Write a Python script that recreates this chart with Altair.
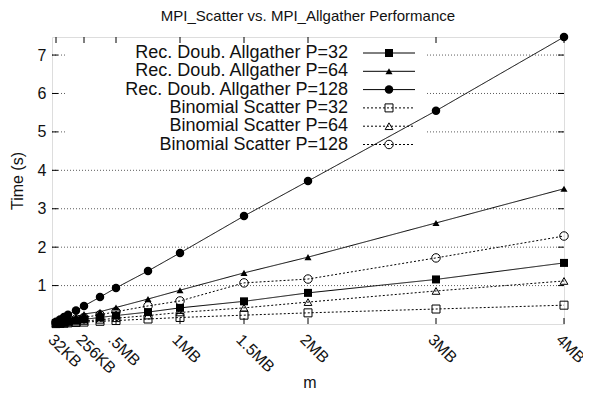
import altair as alt
import pandas as pd

# ---- data ----
sizes_kb = [32, 64, 96, 128, 192, 256, 384, 512, 768, 1024, 1536, 2048, 3072, 4096]
ag_p32 = [0.02, 0.03, 0.05, 0.06, 0.09, 0.12, 0.17, 0.22, 0.31, 0.42, 0.59, 0.81, 1.16, 1.59]
ag_p64 = [0.04, 0.07, 0.10, 0.13, 0.19, 0.26, 0.32, 0.43, 0.65, 0.88, 1.33, 1.74, 2.63, 3.52]
ag_p128 = [0.06, 0.12, 0.18, 0.24, 0.35, 0.47, 0.70, 0.94, 1.38, 1.85, 2.81, 3.72, 5.55, 7.47]
sc_p32 = [0.01, 0.015, 0.02, 0.03, 0.04, 0.05, 0.07, 0.09, 0.13, 0.17, 0.23, 0.29, 0.39, 0.49]
sc_p64 = [0.01, 0.02, 0.03, 0.04, 0.06, 0.08, 0.11, 0.15, 0.22, 0.30, 0.42, 0.57, 0.86, 1.12]
sc_p128 = [0.03, 0.05, 0.07, 0.09, 0.13, 0.17, 0.24, 0.32, 0.47, 0.60, 1.07, 1.17, 1.72, 2.29]

series_names = [
    "Rec. Doub. Allgather P=32",
    "Rec. Doub. Allgather P=64",
    "Rec. Doub. Allgather P=128",
    "Binomial Scatter P=32",
    "Binomial Scatter P=64",
    "Binomial Scatter P=128",
]
series_values = [ag_p32, ag_p64, ag_p128, sc_p32, sc_p64, sc_p128]

x_tick_kb = [32, 256, 512, 1024, 1536, 2048, 3072, 4096]
x_tick_labels = ["32KB", "256KB", ".5MB", "1MB", "1.5MB", "2MB", "3MB", "4MB"]
y_ticks = [1, 2, 3, 4, 5, 6, 7]

title_text = "MPI_Scatter vs. MPI_Allgather Performance"
x_title = "m"
y_title = "Time (s)"

# ---- styling ----
FONT = "Liberation Sans"
W, H = 512, 287
styles = [
    dict(shape="square", filled=True, size=64, dash=[1, 0]),
    dict(shape="triangle-up", filled=True, size=50, dash=[1, 0]),
    dict(shape="circle", filled=True, size=72, dash=[1, 0]),
    dict(shape="square", filled=False, size=64, dash=[2, 2]),
    dict(shape="triangle-up", filled=False, size=60, dash=[2, 2]),
    dict(shape="circle", filled=False, size=72, dash=[2, 2]),
]

x_ticks_mb = [k / 1024 for k in x_tick_kb]
label_expr = "''"
for v, lab in reversed(list(zip(x_ticks_mb, x_tick_labels))):
    label_expr = f"abs(datum.value - {v}) < 0.001 ? '{lab}' : ({label_expr})"

xscale = alt.Scale(domain=[0, 4], nice=False, zero=False)
yscale = alt.Scale(domain=[0, 7.47], nice=False, zero=False)
xaxis = alt.Axis(values=x_ticks_mb, labelExpr=label_expr, labelAngle=45, labelAlign="left",
                 labelBaseline="top", labelPadding=7, title=None, grid=False, ticks=False,
                 domain=False, labelFont=FONT, labelFontSize=16, labelColor="#111", tickSize=0,
                 labelOverlap=False, labelBound=False, labelFlush=False)
yaxis = alt.Axis(values=y_ticks, title=None, grid=False, ticks=False, domain=False,
                 labelFont=FONT, labelFontSize=16, labelColor="#111", labelPadding=6, tickSize=0)


def X(field="mb"):
    return alt.X(f"{field}:Q", scale=xscale, axis=xaxis)


def Y(field="time"):
    return alt.Y(f"{field}:Q", scale=yscale, axis=yaxis)


layers = []

# horizontal dotted grid
grid_df = pd.DataFrame({"time": y_ticks})
layers.append(alt.Chart(grid_df).mark_rule(color="#333", strokeWidth=0.8, strokeDash=[1, 2]).encode(
    y=Y(), x=alt.value(0), x2=alt.value(W)))

# legend background (covers grid)
dummy = pd.DataFrame({"a": [0]})
layers.append(alt.Chart(dummy).mark_rect(color="white").encode(
    x=alt.value(15), x2=alt.value(373), y=alt.value(1), y2=alt.value(113)))

# inward ticks (bottom, top, left, right)
xt_df = pd.DataFrame({"mb": x_ticks_mb})
yt_df = pd.DataFrame({"time": y_ticks})
TL = 6
layers.append(alt.Chart(xt_df).mark_rule(color="black", strokeWidth=1).encode(
    x=X(), y=alt.value(H), y2=alt.value(H - TL)))
layers.append(alt.Chart(xt_df).mark_rule(color="black", strokeWidth=1).encode(
    x=X(), y=alt.value(0), y2=alt.value(TL)))
layers.append(alt.Chart(yt_df).mark_rule(color="black", strokeWidth=1).encode(
    y=Y(), x=alt.value(0), x2=alt.value(TL)))
layers.append(alt.Chart(yt_df).mark_rule(color="black", strokeWidth=1).encode(
    y=Y(), x=alt.value(W), x2=alt.value(W - TL)))

# series
for name, vals, st in zip(series_names, series_values, styles):
    df = pd.DataFrame({"mb": [k / 1024 for k in sizes_kb], "time": vals})
    layers.append(alt.Chart(df).mark_line(color="black", strokeWidth=1, strokeDash=st["dash"]).encode(
        x=X(), y=Y()))
    layers.append(alt.Chart(df).mark_point(
        shape=st["shape"], filled=st["filled"], size=st["size"], color="black",
        strokeWidth=1, opacity=1).encode(x=X(), y=Y()))

# legend
for i, (name, st) in enumerate(zip(series_names, styles)):
    yy = 16 + 18.3 * i
    layers.append(alt.Chart(dummy).mark_text(align="right", baseline="middle", font=FONT,
                                             fontSize=18, color="#111").encode(
        x=alt.value(296), y=alt.value(yy), text=alt.value(name)))
    layers.append(alt.Chart(dummy).mark_rule(color="black", strokeWidth=1, strokeDash=st["dash"]).encode(
        x=alt.value(311), x2=alt.value(363), y=alt.value(yy)))
    layers.append(alt.Chart(dummy).mark_point(shape=st["shape"], filled=st["filled"], size=st["size"],
                                              color="black", strokeWidth=1, opacity=1).encode(
        x=alt.value(337), y=alt.value(yy)))

# titles
layers.append(alt.Chart(dummy).mark_text(align="center", baseline="middle", font=FONT, fontSize=15,
                                         color="#111").encode(
    x=alt.value(W / 2), y=alt.value(-21), text=alt.value(title_text)))
layers.append(alt.Chart(dummy).mark_text(align="center", baseline="middle", font=FONT, fontSize=16,
                                         color="#111").encode(
    x=alt.value(258), y=alt.value(346), text=alt.value(x_title)))
layers.append(alt.Chart(dummy).mark_text(align="center", baseline="middle", font=FONT, fontSize=16,
                                         color="#111", angle=270).encode(
    x=alt.value(-34), y=alt.value(144), text=alt.value(y_title)))

chart = alt.layer(*layers).properties(
    width=W, height=H,
    autosize=alt.AutoSizeParams(type="none"),
    padding={"left": 44, "top": 29, "right": 19, "bottom": 70},
).configure_view(stroke="black", strokeWidth=1.2).configure(background="white")

chart.save("out.html", embed_options={"renderer": "svg", "actions": False})
